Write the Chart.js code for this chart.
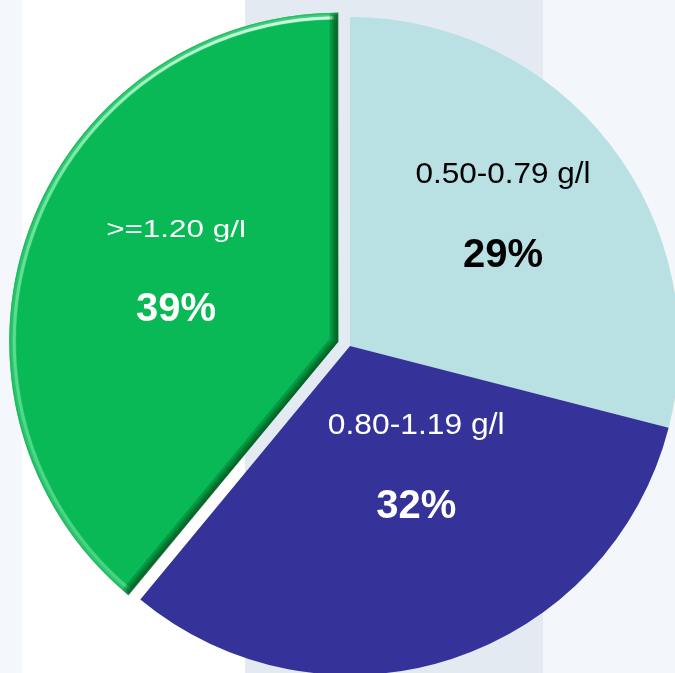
<!DOCTYPE html>
<html>
<head>
<meta charset="utf-8">
<script src="https://cdn.jsdelivr.net/npm/chart.js@4/dist/chart.umd.min.js"></script>
<style>
  html, body { margin: 0; padding: 0; }
  body {
    width: 675px; height: 673px; overflow: hidden;
    background: linear-gradient(to right,
      #F4F7FB 0px, #F4F7FB 22px,
      #FFFFFF 22px, #FFFFFF 245px,
      #E3EAF2 245px, #E3EAF2 543px,
      #F3F6FA 543px, #F3F6FA 675px);
  }
  #wrap { position: absolute; left: 0; top: 0; width: 675px; height: 673px; }
</style>
</head>
<body>
<div id="wrap"><canvas id="c" width="675" height="673"></canvas></div>
<script>
// ---- data ----
const categories = ['0.50-0.79 g/l', '0.80-1.19 g/l', '>=1.20 g/l'];
const shares = [29, 32, 39];
const pctLabels = ['29%', '32%', '39%'];

const FONT = '"Liberation Sans", Arial, sans-serif';

// keep the exploded slice's radius equal to the others
const radiusFix = {
  id: 'radiusFix',
  afterDatasetsUpdate(chart) {
    const meta = chart.getDatasetMeta(0);
    meta.data.forEach(arc => {
      const off = (arc.options.offset || 0) / 4;
      if (off > 0) {
        const fix = 1 - Math.sin(Math.min(Math.PI, arc.endAngle - arc.startAngle));
        arc.outerRadius = meta.controller.outerRadius - off * fix;
      }
    });
  }
};

// bevel on the exploded green slice
const bevel = {
  id: 'bevel',
  afterDatasetsDraw(chart) {
    const ctx = chart.ctx;
    const meta = chart.getDatasetMeta(0);
    const arc = meta.data[2];
    const s = arc.startAngle, e = arc.endAngle;
    const off = (arc.options.offset || 0) / 4;
    const mid = (s + e) / 2;
    const cx = arc.x + Math.cos(mid) * off, cy = arc.y + Math.sin(mid) * off;
    const R = meta.controller.outerRadius;
    ctx.save();
    ctx.beginPath();
    ctx.moveTo(cx, cy);
    ctx.arc(cx, cy, R, s, e);
    ctx.closePath();
    ctx.clip();
    // outer arc: soft lighter band + bright highlight line, strongest at top
    const g1 = ctx.createLinearGradient(cx, cy - R, cx, cy + R);
    g1.addColorStop(0, 'rgba(120,240,170,0.45)');
    g1.addColorStop(0.45, 'rgba(120,240,170,0.25)');
    g1.addColorStop(1, 'rgba(140,240,180,0.30)');
    ctx.lineWidth = 14;
    ctx.strokeStyle = g1;
    ctx.beginPath();
    ctx.arc(cx, cy, R, s, e);
    ctx.stroke();
    const g2 = ctx.createLinearGradient(cx, cy - R, cx - R * 0.3, cy + R * 0.8);
    g2.addColorStop(0, 'rgba(220,255,235,0.95)');
    g2.addColorStop(0.35, 'rgba(170,250,200,0.55)');
    g2.addColorStop(1, 'rgba(150,240,185,0.25)');
    ctx.lineWidth = 3;
    ctx.strokeStyle = g2;
    ctx.beginPath();
    ctx.arc(cx, cy, R - 5, s + 0.02, e - 0.015);
    ctx.stroke();
    // straight edges: dark shading
    ctx.lineJoin = 'miter';
    [17, 12, 8, 4].forEach(w => {
      ctx.lineWidth = w;
      ctx.strokeStyle = 'rgba(0,80,28,0.30)';
      ctx.beginPath();
      ctx.moveTo(cx + (R + 20) * Math.cos(s), cy + (R + 20) * Math.sin(s));
      ctx.lineTo(cx, cy);
      ctx.lineTo(cx + (R + 20) * Math.cos(e), cy + (R + 20) * Math.sin(e));
      ctx.stroke();
    });
    // faint outer rim
    ctx.lineWidth = 2;
    ctx.strokeStyle = 'rgba(40,170,90,0.6)';
    ctx.beginPath();
    ctx.arc(cx, cy, R - 0.5, s, e);
    ctx.stroke();
    ctx.restore();
  }
};

// labels inside slices
const sliceLabels = {
  id: 'sliceLabels',
  afterDatasetsDraw(chart) {
    const ctx = chart.ctx;
    const meta = chart.getDatasetMeta(0);
    const R = meta.controller.outerRadius;
    const st = [
      { color: '#000000', frac: 0.617, dAng: -3.3, size: 30, sx: 1.05 },
      { color: '#FFFFFF', frac: 0.41, dAng: -11.4, size: 30, sx: 1.06 },
      { color: '#FFFFFF', frac: 0.543, dAng: 5, size: 24, sx: 1.31 }
    ];
    meta.data.forEach((arc, i) => {
      const o = st[i];
      const mid = (arc.startAngle + arc.endAngle) / 2;
      const off = (arc.options.offset || 0) / 4;
      const cx = arc.x + Math.cos(mid) * off, cy = arc.y + Math.sin(mid) * off;
      const a = mid + o.dAng * Math.PI / 180;
      const ax = cx + o.frac * R * Math.cos(a);
      const ay = cy + o.frac * R * Math.sin(a);
      ctx.save();
      ctx.fillStyle = o.color;
      ctx.textAlign = 'center';
      ctx.textBaseline = 'alphabetic';
      ctx.save();
      ctx.translate(ax, ay - 30);
      ctx.scale(o.sx, 1);
      ctx.font = o.size + 'px ' + FONT;
      ctx.fillText(categories[i], 0, 0);
      ctx.restore();
      ctx.font = 'bold 40px ' + FONT;
      ctx.fillText(pctLabels[i], ax, ay + 54);
      ctx.restore();
    });
  }
};

new Chart(document.getElementById('c'), {
  type: 'pie',
  data: {
    labels: categories,
    datasets: [{
      data: shares,
      backgroundColor: ['#B9E0E3', '#353399', '#08B955'],
      borderWidth: 0,
      offset: [0, 0, 50],
      hoverOffset: 0,
      radius: 329
    }]
  },
  options: {
    responsive: false,
    animation: false,
    radius: 329,
    layout: { padding: { left: 25, top: 19, right: 0, bottom: 0 } },
    plugins: {
      legend: { display: false },
      tooltip: { enabled: false }
    },
    events: []
  },
  plugins: [radiusFix, bevel, sliceLabels]
});
</script>
</body>
</html>
